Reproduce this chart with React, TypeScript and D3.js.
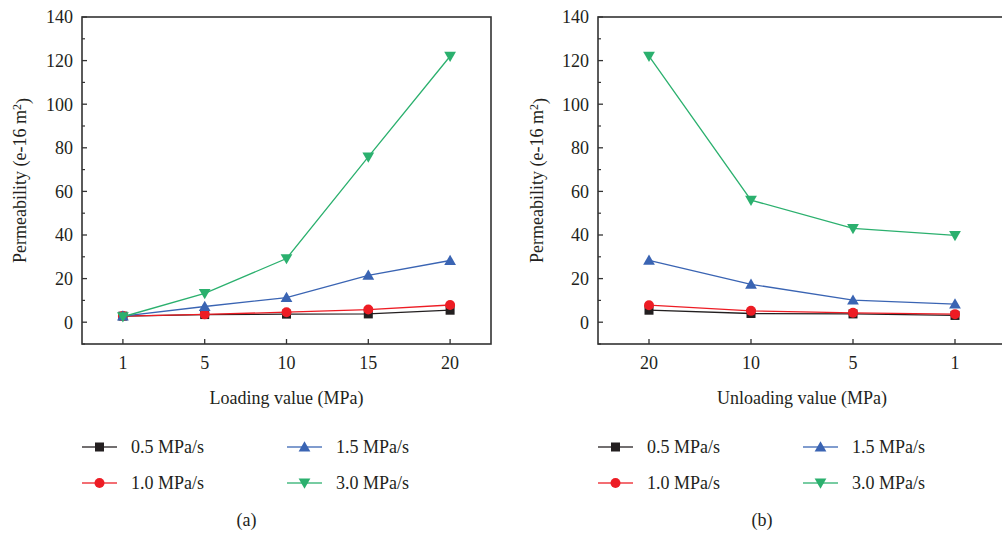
import React from "react";
import * as d3 from "d3";

// loading / unloading steps (MPa)
const loadingSteps = ["1", "5", "10", "15", "20"];
const unloadingSteps = ["20", "10", "5", "1"];

const seriesNames = ["0.5 MPa/s", "1.0 MPa/s", "1.5 MPa/s", "3.0 MPa/s"];
const seriesColors = ["#231f20", "#ed1c24", "#3a64b3", "#2bb06e"];
const seriesMarkers = ["square", "circle", "triangle", "triangleDown"];

// permeability (e-16 m2) during loading
const loading05 = [2.8, 3.5, 3.7, 3.8, 5.5];
const loading10 = [2.8, 3.6, 4.6, 5.8, 7.9];
const loading15 = [2.8, 7.2, 11.3, 21.5, 28.3];
const loading30 = [2.5, 13.2, 29.2, 75.8, 122];

// permeability (e-16 m2) during unloading
const unloading05 = [5.5, 4.0, 3.8, 3.1];
const unloading10 = [7.8, 5.2, 4.3, 3.7];
const unloading15 = [28.4, 17.4, 10.1, 8.3];
const unloading30 = [122, 56, 43, 39.8];

const yTicks = [0, 20, 40, 60, 80, 100, 120, 140];
const yMinorTicks = [-10, 10, 30, 50, 70, 90, 110, 130];

const FONT = '"Liberation Serif", "DejaVu Serif", serif';
const TEXT = "#231f20";
const FS = 18;

const Marker = ({ kind, x, y, color }) => {
  if (kind === "square")
    return <rect x={x - 4.5} y={y - 4.5} width={9} height={9} fill={color} />;
  if (kind === "circle") return <circle cx={x} cy={y} r={5} fill={color} />;
  const sym = d3.symbol().type(d3.symbolTriangle).size(60)();
  const rot = kind === "triangleDown" ? 180 : 0;
  return (
    <path
      d={sym}
      fill={color}
      transform={`translate(${x},${y + (rot ? -1 : 1)}) rotate(${rot})`}
    />
  );
};

const Panel = ({ left, right, cats, values, xTitle, tag, legendX, legendX2, titleX }) => {
  const top = 17;
  const bottom = 344;
  const x = d3.scalePoint().domain(cats).range([left, right]).padding(0.5);
  const y = d3.scaleLinear().domain([-10, 140]).range([bottom, top]);
  const line = d3
    .line()
    .x((d) => d[0])
    .y((d) => d[1]);
  const cy = (top + bottom) / 2;
  const midX = (left + Math.min(right, 1006)) / 2;

  return (
    <g fill={TEXT}>
      {/* series */}
      {values.map((vals, s) => {
        const pts = vals.map((v, i) => [x(cats[i]), y(v)]);
        return (
          <g key={s}>
            <path d={line(pts)} fill="none" stroke={seriesColors[s]} strokeWidth={1.3} />
            {pts.map((p, i) => (
              <Marker key={i} kind={seriesMarkers[s]} x={p[0]} y={p[1]} color={seriesColors[s]} />
            ))}
          </g>
        );
      })}
      {/* frame */}
      <rect
        x={left}
        y={top}
        width={right - left}
        height={bottom - top}
        fill="none"
        stroke="#333"
        strokeWidth={1.6}
      />
      {/* y ticks */}
      {yTicks.map((t) => (
        <g key={t}>
          <line x1={left} x2={left + 5} y1={y(t)} y2={y(t)} stroke="#333" strokeWidth={1.3} />
          <text x={left - 9} y={y(t)} dy="0.35em" textAnchor="end" fontSize={FS}>
            {t}
          </text>
        </g>
      ))}
      {yMinorTicks.map((t) => (
        <line key={t} x1={left} x2={left + 3} y1={y(t)} y2={y(t)} stroke="#333" strokeWidth={1.2} />
      ))}
      {/* x ticks */}
      {cats.map((c) => (
        <g key={c}>
          <line x1={x(c)} x2={x(c)} y1={bottom} y2={bottom - 5} stroke="#333" strokeWidth={1.3} />
          <text x={x(c)} y={363} dy="0.35em" textAnchor="middle" fontSize={FS}>
            {c}
          </text>
        </g>
      ))}
      <text x={midX} y={398} dy="0.35em" textAnchor="middle" fontSize={FS}>
        {xTitle}
      </text>
      <text
        transform={`translate(${titleX},${cy}) rotate(-90)`}
        textAnchor="middle"
        dy="0.35em"
        fontSize={FS}
      >
        Permeability (e-16 m
        <tspan dy="-0.45em" fontSize={12}>
          2
        </tspan>
        <tspan dy="0.45em">)</tspan>
      </text>
      {/* legend */}
      {seriesNames.map((name, s) => {
        const lx = s < 2 ? legendX : legendX2;
        const ly = s % 2 === 0 ? 447 : 483;
        return (
          <g key={name}>
            <line x1={lx} x2={lx + 35} y1={ly} y2={ly} stroke={seriesColors[s]} strokeWidth={1.6} opacity={0.85} />
            <Marker kind={seriesMarkers[s]} x={lx + 17.5} y={ly} color={seriesColors[s]} />
            <text x={lx + 49} y={ly} dy="0.35em" fontSize={FS}>
              {name}
            </text>
          </g>
        );
      })}
      <text x={midX - 40} y={520} dy="0.35em" textAnchor="middle" fontSize={FS}>
        {tag}
      </text>
    </g>
  );
};

export default function App() {
  const loadingValues = [loading05, loading10, loading15, loading30];
  const unloadingValues = [unloading05, unloading10, unloading15, unloading30];
  return (
    <svg
      width={1002}
      height={535}
      style={{ position: "absolute", left: 0, top: 0, background: "#fff", fontFamily: FONT }}
    >
      <Panel
        left={82}
        right={491}
        cats={loadingSteps}
        values={loadingValues}
        xTitle="Loading value (MPa)"
        tag="(a)"
        legendX={82}
        legendX2={287}
        titleX={20}
      />
      <Panel
        left={598}
        right={1006}
        cats={unloadingSteps}
        values={unloadingValues}
        xTitle="Unloading value (MPa)"
        tag="(b)"
        legendX={598}
        legendX2={803}
        titleX={537}
      />
    </svg>
  );
}
